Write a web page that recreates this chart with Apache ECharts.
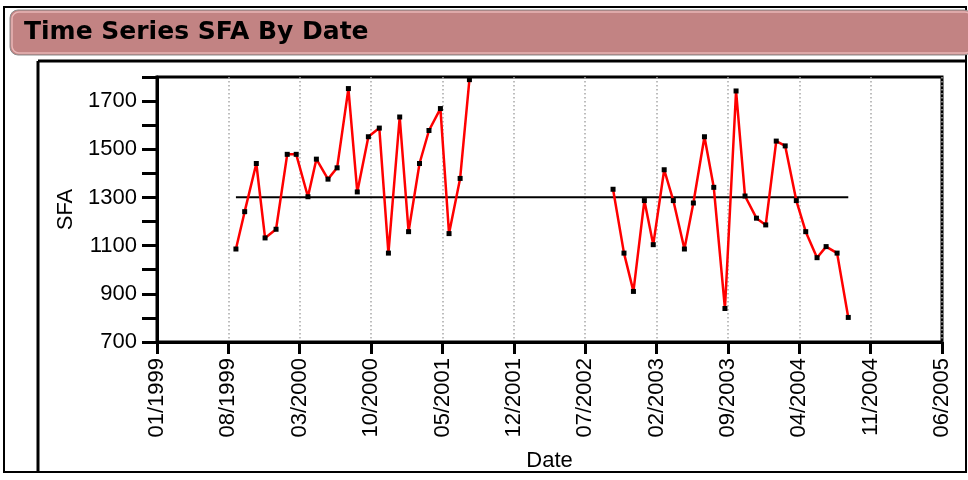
<!DOCTYPE html>
<html lang="en">
<head>
<meta charset="UTF-8">
<title>Time Series SFA By Date</title>
<script src="https://cdn.jsdelivr.net/npm/echarts@6/dist/echarts.min.js"></script>
</head>
<body style="margin:0;background:#fff">
<div id="main" style="width:968px;height:480px"></div>
<script>
// first run of observations (Aug 1999 - Jul 2001)
var dates1 = ['1999-08-24','1999-09-19','1999-10-24','1999-11-19','1999-12-22',
    '2000-01-25','2000-02-20','2000-03-26','2000-04-20','2000-05-25','2000-06-21',
    '2000-07-25','2000-08-21','2000-09-23','2000-10-26','2000-11-22','2000-12-26',
    '2001-01-22','2001-02-22','2001-03-22','2001-04-25','2001-05-21','2001-06-23','2001-07-21'];
var sfa1 = [1086,1241,1441,1132,1168,1479,1479,1303,1459,1376,1423,1752,1323,1552,1588,
    1069,1634,1158,1441,1578,1669,1150,1379,1789];

// second run (Sep 2002 - Aug 2004)
var dates2 = ['2002-09-23','2002-10-26','2002-11-23','2002-12-26','2003-01-22',
    '2003-02-22','2003-03-21','2003-04-23','2003-05-20','2003-06-22','2003-07-20',
    '2003-08-23','2003-09-25','2003-10-22','2003-11-25','2003-12-23','2004-01-24',
    '2004-02-19','2004-03-23','2004-04-20','2004-05-24','2004-06-20','2004-07-23','2004-08-26'];
var sfa2 = [1334,1069,910,1287,1104,1415,1287,1086,1277,1552,1342,839,1742,1306,1214,
    1186,1534,1514,1287,1158,1050,1096,1069,802];

var meanSFA = 1301;
var yTickLabels = [700, 900, 1100, 1300, 1500, 1700];

// months counted from 01/1999
function monthIdx(s) {
    var p = s.split('-');
    var y = +p[0], m = +p[1], d = +p[2];
    var dim = new Date(y, m, 0).getDate();
    return (y - 1999) * 12 + (m - 1) + (d - 1) / dim;
}
function pairs(ds, vs) {
    return ds.map(function (d, i) { return [monthIdx(d), vs[i]]; });
}
function pad(n) { return n < 10 ? '0' + n : '' + n; }

var allDates = dates1.concat(dates2);
var meanData = [[monthIdx(allDates[0]), meanSFA], [monthIdx(allDates[allDates.length - 1]), meanSFA]];

var lineStyle = {color: '#ff0000', width: 2.5};
var itemStyle = {color: '#000'};

var option = {
    animation: false,
    title: {
        text: 'Time Series SFA By Date',
        left: 24, top: 20, padding: 0,
        textStyle: {fontFamily: 'DejaVu Sans', fontWeight: 'bold', fontSize: 25, color: '#000'}
    },
    graphic: [
        {type: 'rect', z: -10, shape: {x: 4, y: 7, width: 962, height: 465},
            style: {fill: '#fff', stroke: '#000', lineWidth: 2}},
        {type: 'rect', z: -9, shape: {x: 10, y: 10, width: 962, height: 45, r: 8},
            style: {fill: '#c28383', stroke: '#8c8c8c', lineWidth: 1}},
        {type: 'rect', z: -8, shape: {x: 12, y: 12, width: 960, height: 41, r: 7},
            style: {fill: 'none', stroke: '#e8b6b6', lineWidth: 1.5}},
        {type: 'line', z: -7, shape: {x1: 38, y1: 61, x2: 966, y2: 61}, style: {stroke: '#000', lineWidth: 3}},
        {type: 'line', z: -7, shape: {x1: 38, y1: 61, x2: 38, y2: 472}, style: {stroke: '#000', lineWidth: 3}}
    ],
    grid: {
        left: 157, right: 26, top: 77, bottom: 138,
        show: true, borderColor: '#000', borderWidth: 3, backgroundColor: '#fff'
    },
    xAxis: {
        type: 'value',
        min: 0, max: 77, interval: 7,
        name: 'Date', nameLocation: 'middle', nameGap: 108,
        nameTextStyle: {fontFamily: 'Liberation Sans', fontSize: 22, color: '#000'},
        axisLine: {lineStyle: {color: '#000', width: 3}},
        axisTick: {length: 12, lineStyle: {color: '#000', width: 3}},
        axisLabel: {
            rotate: 90, margin: 16, color: '#000',
            fontFamily: 'Liberation Sans', fontSize: 22,
            formatter: function (v) {
                return pad(v % 12 + 1) + '/' + (1999 + Math.floor(v / 12));
            }
        },
        splitLine: {show: true, lineStyle: {color: '#a8a8a8', width: 1.5, type: [1.5, 2.5]}}
    },
    yAxis: {
        type: 'value',
        min: 700, max: 1800, interval: 100,
        name: 'SFA', nameLocation: 'middle', nameGap: 80, nameRotate: 90,
        nameTextStyle: {fontFamily: 'Liberation Sans', fontSize: 22, color: '#000'},
        axisLine: {show: true, lineStyle: {color: '#000', width: 3}},
        axisTick: {show: true, length: 15, lineStyle: {color: '#000', width: 3}},
        axisLabel: {
            margin: 20, color: '#000',
            fontFamily: 'Liberation Sans', fontSize: 22,
            formatter: function (v) {
                return yTickLabels.indexOf(v) >= 0 ? String(v) : '';
            }
        },
        splitLine: {show: false}
    },
    series: [
        {
            name: 'Mean', type: 'line', z: 1,
            data: meanData, showSymbol: false,
            lineStyle: {color: '#000', width: 2}
        },
        {
            name: 'SFA', type: 'line', z: 3,
            data: pairs(dates1, sfa1),
            symbol: 'rect', symbolSize: 5, itemStyle: itemStyle, lineStyle: lineStyle
        },
        {
            name: 'SFA', type: 'line', z: 3,
            data: pairs(dates2, sfa2),
            symbol: 'rect', symbolSize: 5, itemStyle: itemStyle, lineStyle: lineStyle
        }
    ]
};

var myChart = echarts.init(document.getElementById('main'));
myChart.setOption(option);
</script>
</body>
</html>
